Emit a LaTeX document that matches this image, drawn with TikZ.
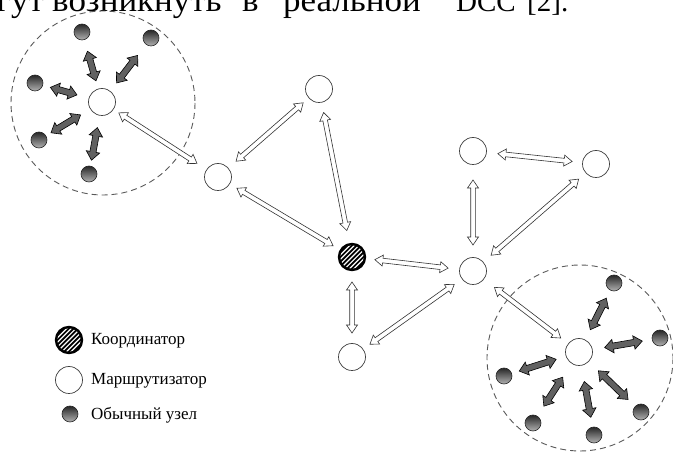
\documentclass[tikz,border=0pt]{standalone}
\usepackage{fontspec}
\setmainfont{Liberation Serif}
\newfontfamily\topwide[FakeStretch=1.06]{Liberation Serif}
\usetikzlibrary{calc}
% generic double-headed block arrow between two named nodes
% #1 style, #2 head length, #3 head half width, #4 shaft half width,
% #5 node a, #6 node b, #7 gap at a, #8 gap at b
\newcommand\blockarr[8]{%
  \path[#1] let \p1=($(#5)!#7!(#6)$), \p2=($(#6)!#8!(#5)$),
     \n1={atan2(\y2-\y1,\x2-\x1)}, \n2={veclen(\x2-\x1,\y2-\y1)} in
     (\p1)
     -- ($(\p1)+(\n1:#2)+(\n1+90:#3)$)
     -- ($(\p1)+(\n1:#2)+(\n1+90:#4)$)
     -- ($(\p1)+({\n1}:{\n2-#2})+(\n1+90:#4)$)
     -- ($(\p1)+({\n1}:{\n2-#2})+(\n1+90:#3)$)
     -- (\p2)
     -- ($(\p1)+({\n1}:{\n2-#2})+(\n1-90:#3)$)
     -- ($(\p1)+({\n1}:{\n2-#2})+(\n1-90:#4)$)
     -- ($(\p1)+(\n1:#2)+(\n1-90:#4)$)
     -- ($(\p1)+(\n1:#2)+(\n1-90:#3)$)
     -- cycle;}
\newcommand\warr[4]{\blockarr{warrow}{8pt}{5.5pt}{2.3pt}{#1}{#2}{#3}{#4}}
\newcommand\darr[4]{\blockarr{darrow}{8.5pt}{6.8pt}{3.1pt}{#1}{#2}{#3}{#4}}
\tikzset{
  router/.style={circle, draw=black!75, line width=0.7pt, fill=white,
    minimum size=27pt, inner sep=0pt},
  coordnode/.style={circle, fill=black, draw=black, line width=2.4pt,
    minimum size=26pt, inner sep=0pt,
    path picture={\foreach \k in {-10,...,10}
      \draw[white, line width=1.2pt]
        ($(path picture bounding box.center)+(\k*4.6pt-20pt,-20pt)$) -- ++(40pt,40pt);}},
  ball/.style={circle, draw=black!85, line width=0.6pt, top color=black!85,
    bottom color=black!30, minimum size=16pt, inner sep=0pt},
  warrow/.style={draw=black!80, line width=0.6pt, fill=white, line join=miter},
  darrow/.style={draw=black, line width=0.6pt, fill=black!62, line join=miter},
  cluster/.style={draw=black!65, line width=0.9pt, dash pattern=on 6pt off 4pt},
  legend/.style={anchor=west, inner sep=0pt, font=\fontsize{17}{20}\selectfont},
  topword/.style={inner sep=0pt, font=\topwide\fontsize{33}{38}\selectfont},
  toplatin/.style={inner sep=0pt, anchor=base west, font=\fontsize{29}{33}\selectfont}
}
\begin{document}
\begin{tikzpicture}[x=1pt, y=-1pt]
\useasboundingbox (0,0) rectangle (673,454);
% cut-off text line at the top (justified, so placed word by word)
\node[topword, anchor=base east] (w1) at (44,12) {могут};
\node[topword, anchor=base west] (w2) at (52,12) {возникнуть};
\node[topword, anchor=base west] (w3) at (242,12) {в};
\node[topword, anchor=base west] (w4) at (283,12) {реальной};
\node[toplatin] (w5) at (456,12) {DCC};
\node[toplatin] (w6) at (527,12) {[2].};
% clusters
\draw[cluster] (103,103) circle[radius=92];
\draw[cluster] (580,358) circle[radius=93];
% routers and coordinator
\node[router] (A) at (102,102) {};
\node[router] (B) at (218,177) {};
\node[router] (C) at (319,89) {};
\node[coordnode] (D) at (352,257) {};
\node[router] (E) at (473,151) {};
\node[router] (F) at (596,164) {};
\node[router] (G) at (473,271) {};
\node[router] (H) at (352,357) {};
\node[router] (I) at (579,352) {};
% ordinary nodes
\node[ball] (l1) at (82,32) {};
\node[ball] (l2) at (151,38) {};
\node[ball] (l3) at (35,83) {};
\node[ball] (l4) at (39,140) {};
\node[ball] (l5) at (89,174) {};
\node[ball] (r1) at (614,283) {};
\node[ball] (r2) at (660,338) {};
\node[ball] (r3) at (504,376) {};
\node[ball] (r4) at (641,412) {};
\node[ball] (r5) at (533,423) {};
\node[ball] (r6) at (594,435) {};
% white links
\warr{A}{B}{20pt}{25pt}
\warr{B}{C}{24pt}{21pt}
\warr{C}{D}{24pt}{27pt}
\warr{B}{D}{22pt}{22pt}
\warr{E}{F}{25pt}{24pt}
\warr{E}{G}{29pt}{26pt}
\warr{F}{G}{23pt}{24pt}
\warr{D}{G}{23pt}{25pt}
\warr{D}{H}{25pt}{24pt}
\warr{H}{G}{22pt}{23pt}
\warr{G}{I}{27pt}{23pt}
% dark links
\darr{l1}{A}{20pt}{22pt}
\darr{l2}{A}{22pt}{24pt}
\darr{l3}{A}{16pt}{26pt}
\darr{l4}{A}{14pt}{25pt}
\darr{l5}{A}{14pt}{26pt}
\darr{r1}{I}{17pt}{25pt}
\darr{r2}{I}{18pt}{26pt}
\darr{r3}{I}{16pt}{24pt}
\darr{r4}{I}{18pt}{27pt}
\darr{r5}{I}{20pt}{30pt}
\darr{r6}{I}{18pt}{30pt}
% legend
\node[coordnode] (kc) at (69,340) {};
\node[router] (kr) at (69,380) {};
\node[ball] (kb) at (70,414) {};
\node[legend] (tc) at (91,341) {Координатор};
\node[legend] (tr) at (91,381) {Маршрутизатор};
\node[legend] (tb) at (91,415) {Обычный узел};
\end{tikzpicture}
\end{document}
